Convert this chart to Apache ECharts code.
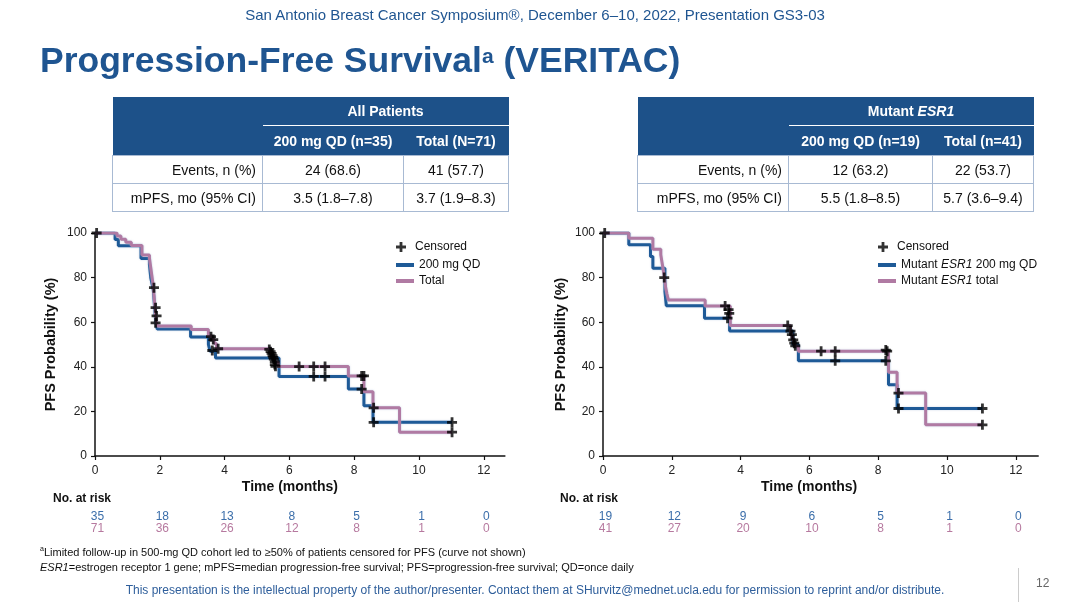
<!DOCTYPE html>
<html>
<head>
<meta charset="utf-8">
<script src="https://cdn.jsdelivr.net/npm/echarts@6/dist/echarts.min.js"></script>
<style>
  html, body { margin:0; padding:0; background:#fff; width:1070px; height:602px; overflow:hidden; }
  body { font-family: "Liberation Sans", Arial, sans-serif; position:relative; }
  #chart { position:absolute; left:0; top:0; width:1070px; height:602px; }
  .abs { position:absolute; z-index:2; white-space:nowrap; }
  #hdr { left:0; width:1070px; top:6px; text-align:center; font-size:15px; color:#1f5591; }
  #title { left:40px; top:39px; font-size:35.5px; font-weight:bold; color:#1f5591; line-height:42px; }
  #title sup { font-size:21px; vertical-align:top; position:relative; top:-4px; }
  .tbl { position:absolute; z-index:2; }
  .tbl table { border-collapse:collapse; table-layout:fixed; font-size:14px; }
  .tbl th { background:#1d5189; color:#fff; font-weight:bold; padding:0; text-align:center; }
  .tbl tr.h1 th { height:28px; }
  .tbl tr.h1 th.span { border-bottom:1.5px solid #fff; }
  .tbl tr.h2 th { height:29px; }
  .tbl td { border:1.5px solid #a8bad3; height:27px; text-align:center; color:#111; padding:0; }
  .tbl td.lab { text-align:right; padding-right:6px; }
  .tbl i { font-style:italic; }
  .risk { font-size:12px; font-weight:bold; color:#111; top:491px; }
  #fn1 { left:40px; top:545px; font-size:11px; color:#111; }
  #fn1 sup { font-size:7px; }
  #fn2 { left:40px; top:561px; font-size:11px; color:#111; }
  #foot { left:0; width:1070px; text-align:center; top:583px; font-size:12px; color:#2e5e9b; }
  #pg { left:1036px; top:576px; font-size:12px; color:#666; }
  #vline { position:absolute; left:1018px; top:568px; width:1px; height:34px; background:#ccc; z-index:2; }
</style>
</head>
<body>
<div id="chart"></div>
<div id="hdr" class="abs">San Antonio Breast Cancer Symposium®, December 6–10, 2022, Presentation GS3-03</div>
<div id="title" class="abs">Progression-Free Survival<sup>a</sup> (VERITAC)</div>
<div id="tblAll" class="tbl" style="left:112px;top:97px;"></div>
<div id="tblEsr" class="tbl" style="left:637px;top:97px;"></div>
<div class="abs risk" style="left:53px;">No. at risk</div>
<div class="abs risk" style="left:560px;">No. at risk</div>
<div id="fn1" class="abs"><sup>a</sup>Limited follow-up in 500-mg QD cohort led to ≥50% of patients censored for PFS (curve not shown)</div>
<div id="fn2" class="abs"><i>ESR1</i>=estrogen receptor 1 gene; mPFS=median progression-free survival; PFS=progression-free survival; QD=once daily</div>
<div id="foot" class="abs">This presentation is the intellectual property of the author/presenter. Contact them at SHurvitz@mednet.ucla.edu for permission to reprint and/or distribute.</div>
<div id="vline"></div>
<div id="pg" class="abs">12</div>
<script>
// ---------- data ----------
const monthTicks = [0, 2, 4, 6, 8, 10, 12];

// Table values
const tblAllTitle = 'All Patients';
const tblAllCols = ['200 mg QD (n=35)', 'Total (N=71)'];
const tblAllEvents = ['24 (68.6)', '41 (57.7)'];
const tblAllMpfs = ['3.5 (1.8–7.8)', '3.7 (1.9–8.3)'];
const tblEsrTitle = 'Mutant <i>ESR1</i>';
const tblEsrCols = ['200 mg QD (n=19)', 'Total (n=41)'];
const tblEsrEvents = ['12 (63.2)', '22 (53.7)'];
const tblEsrMpfs = ['5.5 (1.8–8.5)', '5.7 (3.6–9.4)'];
const rowLabels = ['Events, n (%)', 'mPFS, mo (95% CI)'];

// Numbers at risk
const riskAllQD = [35, 18, 13, 8, 5, 1, 0];
const riskAllTotal = [71, 36, 26, 12, 8, 1, 0];
const riskEsrQD = [19, 12, 9, 6, 5, 1, 0];
const riskEsrTotal = [41, 27, 20, 10, 8, 1, 0];

// Kaplan-Meier curves: [time (months), PFS probability (%)]
const kmAllQD = [[0,100],[0.62,97.1],[0.72,94.3],[1.42,88.6],[1.68,85.7],[1.72,80.0],[1.76,77.1],[1.8,74.3],[1.83,68.6],[1.86,62.9],[1.88,60.0],[1.92,57.0],[2.95,53.4],[3.5,50.0],[3.55,47.0],[3.72,43.9],[5.68,35.7],[7.82,30.0],[8.3,22.5],[8.58,15.1],[11.02,15.1]];
const kmAllTotal = [[0,100],[0.68,98.6],[0.8,97.2],[0.95,95.8],[1.12,94.4],[1.45,90.1],[1.68,88.7],[1.72,84.5],[1.76,80.3],[1.8,76.1],[1.83,70.4],[1.86,64.8],[1.89,60.6],[1.92,58.3],[2.97,56.7],[3.5,53.9],[3.6,52.3],[3.68,50.5],[3.75,48.1],[5.42,46.6],[5.47,45.1],[5.52,43.6],[5.56,42.0],[5.65,40.1],[7.82,35.9],[8.3,28.8],[8.58,21.6],[9.4,10.7],[11.02,10.7]];
const censorAll = [[0.05,100],[1.82,75.5],[1.87,66.5],[1.9,62.8],[1.87,59.7],[3.58,53.5],[3.65,52.2],[3.62,47.3],[3.8,48.1],[5.38,47.8],[5.42,46.8],[5.45,46.0],[5.48,45.0],[5.5,44.2],[5.52,43.4],[5.55,42.3],[5.55,41.0],[5.57,40.2],[6.3,40.1],[6.75,40.1],[6.75,35.7],[7.1,40.1],[7.1,35.7],[8.23,35.9],[8.3,35.9],[8.23,30.0],[8.6,21.6],[8.6,15.1],[11.02,15.1],[11.02,10.7]];

const kmEsrQD = [[0,100],[0.75,94.7],[1.38,89.5],[1.45,84.2],[1.8,73.7],[1.84,67.4],[2.95,61.8],[3.68,56.0],[5.52,50.0],[5.68,42.7],[8.3,32.0],[8.55,21.3],[11.03,21.3]];
const kmEsrTotal = [[0,100],[0.75,97.6],[1.45,92.7],[1.68,90.2],[1.73,85.4],[1.78,80.5],[1.82,75.6],[1.86,72.6],[1.9,70.0],[2.97,67.3],[3.7,58.5],[5.45,56.0],[5.5,53.5],[5.55,51.0],[5.6,49.0],[5.68,47.0],[8.3,37.6],[8.55,28.2],[9.38,14.0],[11.03,14.0]];
const censorEsr = [[0.05,100],[1.78,80.0],[3.55,67.3],[3.65,65.6],[3.67,64.0],[3.62,61.8],[5.37,58.5],[5.45,56.0],[5.49,54.4],[5.53,52.1],[5.56,50.6],[5.59,49.4],[6.34,47.0],[6.75,47.0],[6.75,42.7],[8.22,47.5],[8.26,47.0],[8.22,42.7],[8.59,28.2],[8.59,21.3],[11.03,21.3],[11.03,14.0]];

// ---------- tables ----------
function buildTable(el, title, cols, events, mpfs, widths) {
  let h = '<table><colgroup>' + widths.map(w => `<col style="width:${w}px">`).join('') + '</colgroup>';
  h += `<tr class="h1"><th></th><th class="span" colspan="2">${title}</th></tr>`;
  h += `<tr class="h2"><th></th><th>${cols[0]}</th><th>${cols[1]}</th></tr>`;
  h += `<tr><td class="lab">${rowLabels[0]}</td><td>${events[0]}</td><td>${events[1]}</td></tr>`;
  h += `<tr><td class="lab">${rowLabels[1]}</td><td>${mpfs[0]}</td><td>${mpfs[1]}</td></tr>`;
  h += '</table>';
  document.getElementById(el).innerHTML = h;
}
buildTable('tblAll', tblAllTitle, tblAllCols, tblAllEvents, tblAllMpfs, [150, 141, 105]);
buildTable('tblEsr', tblEsrTitle, tblEsrCols, tblEsrEvents, tblEsrMpfs, [151, 144, 101]);

// ---------- chart ----------
const FONT = '"Liberation Sans", Arial, sans-serif';
const BLUE = '#1e5a97', PINK = '#b07aa3';
const RISK_BLUE = '#3b6eaa', RISK_PINK = '#b6799f';
const PLUS = 'path://M3.6,0H6.4V3.6H10V6.4H6.4V10H3.6V6.4H0V3.6H3.6Z';
const XMAX = 12.65;

function mainX(gi, padRight) {
  return {
    type: 'value', gridIndex: gi, min: 0, max: XMAX,
    name: 'Time (months)', nameLocation: 'middle', nameGap: 24,
    nameTextStyle: { fontFamily: FONT, fontWeight: 'bold', fontSize: 14, color: '#111', padding: [0, padRight, 0, 0] },
    axisLine: { lineStyle: { color: '#111', width: 1.5 } },
    axisTick: { customValues: monthTicks, length: 4, lineStyle: { color: '#111', width: 1.2 } },
    axisLabel: { customValues: monthTicks, fontFamily: FONT, fontSize: 12, color: '#222', margin: 9 },
    splitLine: { show: false }
  };
}
function riskX(gi, top, bottom) {
  return {
    type: 'value', gridIndex: gi, min: 0, max: XMAX, position: 'bottom', offset: 47,
    axisLine: { show: false }, axisTick: { show: false }, splitLine: { show: false },
    axisLabel: {
      customValues: monthTicks, margin: 8, padding: [0, 0, 0, 5],
      formatter: v => { const i = monthTicks.indexOf(v); return `{b|${top[i]}}\n{p|${bottom[i]}}`; },
      rich: {
        b: { color: RISK_BLUE, fontSize: 12, lineHeight: 12, fontFamily: FONT },
        p: { color: RISK_PINK, fontSize: 12, lineHeight: 12, fontFamily: FONT }
      }
    }
  };
}
function yAx(gi, gap) {
  return {
    type: 'value', gridIndex: gi, min: 0, max: 100, interval: 20,
    name: 'PFS Probability (%)', nameLocation: 'middle', nameGap: gap,
    nameTextStyle: { fontFamily: FONT, fontWeight: 'bold', fontSize: 14.5, color: '#111' },
    axisLine: { show: true, lineStyle: { color: '#111', width: 1.5 } },
    axisTick: { show: true, length: 4, lineStyle: { color: '#111', width: 1.2 } },
    axisLabel: { fontFamily: FONT, fontSize: 12, color: '#222', margin: 8 },
    splitLine: { show: false }
  };
}
function kmLine(name, data, color, xi, yi, z) {
  return {
    type: 'line', name, data, step: 'end', xAxisIndex: xi, yAxisIndex: yi,
    showSymbol: false, symbol: 'none', z, animation: false, silent: true,
    color, itemStyle: { color },
    lineStyle: { color, width: 3, shadowColor: 'rgba(160,180,210,0.6)', shadowBlur: 2 }
  };
}
function censor(data, xi, yi) {
  return {
    type: 'scatter', name: 'Censored', data, xAxisIndex: xi, yAxisIndex: yi,
    symbol: PLUS, symbolSize: 10, z: 10, animation: false, silent: true,
    itemStyle: { color: '#000' }
  };
}
const legText = { fontFamily: FONT, fontSize: 12, color: '#111',
  rich: { i: { fontStyle: 'italic', fontFamily: FONT, fontSize: 12, color: '#111' } } };
function legends(left, names) {
  return [
    { left, top: 236, orient: 'vertical', itemWidth: 18, itemHeight: 10, itemGap: 4, selectedMode: false,
      data: [{ name: 'Censored', icon: PLUS }], textStyle: legText },
    { left, top: 254, orient: 'vertical', itemWidth: 18, itemHeight: 4, itemGap: 4, selectedMode: false,
      data: names.map(n => ({ name: n, icon: 'rect' })), textStyle: legText,
      formatter: n => n.replace('ESR1', '{i|ESR1}') }
  ];
}

const chart = echarts.init(document.getElementById('chart'), null, { renderer: 'canvas' });
chart.setOption({
  animation: false,
  backgroundColor: 'transparent',
  grid: [
    { left: 95, top: 233, width: 12.65 * 32.4, height: 223 },
    { left: 603, top: 233, width: 12.65 * 34.4, height: 223 }
  ],
  xAxis: [mainX(0, 20), mainX(1, 23), riskX(0, riskAllQD, riskAllTotal), riskX(1, riskEsrQD, riskEsrTotal)],
  yAxis: [yAx(0, 37), yAx(1, 35)],
  legend: [...legends(391, ['200 mg QD', 'Total']), ...legends(873, ['Mutant ESR1 200 mg QD', 'Mutant ESR1 total'])],
  series: [
    kmLine('200 mg QD', kmAllQD, BLUE, 0, 0, 2),
    kmLine('Total', kmAllTotal, PINK, 0, 0, 3),
    censor(censorAll, 0, 0),
    kmLine('Mutant ESR1 200 mg QD', kmEsrQD, BLUE, 1, 1, 2),
    kmLine('Mutant ESR1 total', kmEsrTotal, PINK, 1, 1, 3),
    censor(censorEsr, 1, 1)
  ]
});
</script>
</body>
</html>
